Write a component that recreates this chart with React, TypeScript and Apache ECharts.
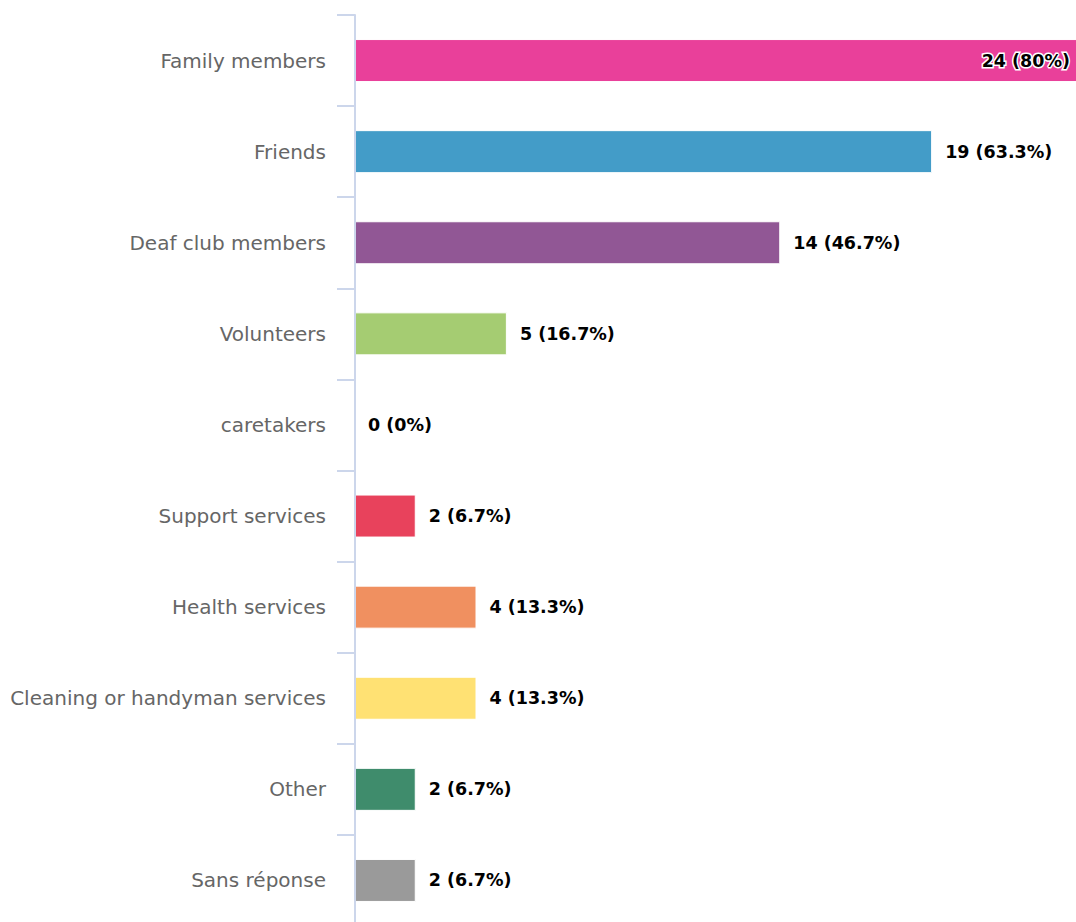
import React, { useEffect, useRef } from "react";
import * as echarts from "echarts";

const categories = [
  "Family members",
  "Friends",
  "Deaf club members",
  "Volunteers",
  "caretakers",
  "Support services",
  "Health services",
  "Cleaning or handyman services",
  "Other",
  "Sans réponse",
];
const counts = [24, 19, 14, 5, 0, 2, 4, 4, 2, 2];
const percents = ["80", "63.3", "46.7", "16.7", "0", "6.7", "13.3", "13.3", "6.7", "6.7"];
const colors = [
  "#E9409A",
  "#439CC8",
  "#915795",
  "#A5CC72",
  "#F0F0F0",
  "#E8425C",
  "#F09060",
  "#FFE173",
  "#3F8C6C",
  "#9A9A9A",
];

export default function App() {
  const ref = useRef<HTMLDivElement>(null);
  useEffect(() => {
    if (!ref.current) return;
    const chart = echarts.init(ref.current, undefined, { renderer: "svg" });
    const font = "'DejaVu Sans', Verdana, sans-serif";
    chart.setOption({
      animation: false,
      grid: { left: 355, right: 16, top: 15, bottom: 14, containLabel: false },
      xAxis: {
        type: "value",
        min: 0,
        max: 24,
        show: false,
      },
      yAxis: {
        type: "category",
        inverse: true,
        data: categories,
        z: 5,
        axisLine: { show: true, lineStyle: { color: "#ccd6eb", width: 2 } },
        axisTick: { show: true, length: 18, lineStyle: { color: "#ccd6eb", width: 2 } },
        axisLabel: {
          margin: 29,
          color: "#666666",
          fontSize: 20,
          fontFamily: font,
        },
        splitLine: { show: false },
      },
      series: [
        {
          type: "bar",
          barWidth: 43,
          z: 2,
          data: counts.map((v, i) => ({
            value: v,
            itemStyle: {
              color: colors[i],
              borderColor: "#ffffff",
              borderWidth: v === 0 ? 0 : 1,
            },
            label:
              i === 0
                ? {
                    position: "insideRight",
                    distance: 14,
                    textBorderColor: "#ffffff",
                    textBorderWidth: 3,
                  }
                : {},
          })),
          label: {
            show: true,
            position: "right",
            distance: 13,
            color: "#000000",
            fontWeight: "bold",
            fontSize: 17.5,
            fontFamily: font,
            formatter: (p: any) => `${counts[p.dataIndex]} (${percents[p.dataIndex]}%)`,
          },
        },
      ],
    });
    return () => chart.dispose();
  }, []);
  return (
    <div
      style={{
        position: "absolute",
        left: 0,
        top: 0,
        width: 1076,
        height: 922,
        overflow: "hidden",
        background: "#ffffff",
      }}
    >
      <div ref={ref} style={{ width: 1100, height: 940 }} />
    </div>
  );
}
